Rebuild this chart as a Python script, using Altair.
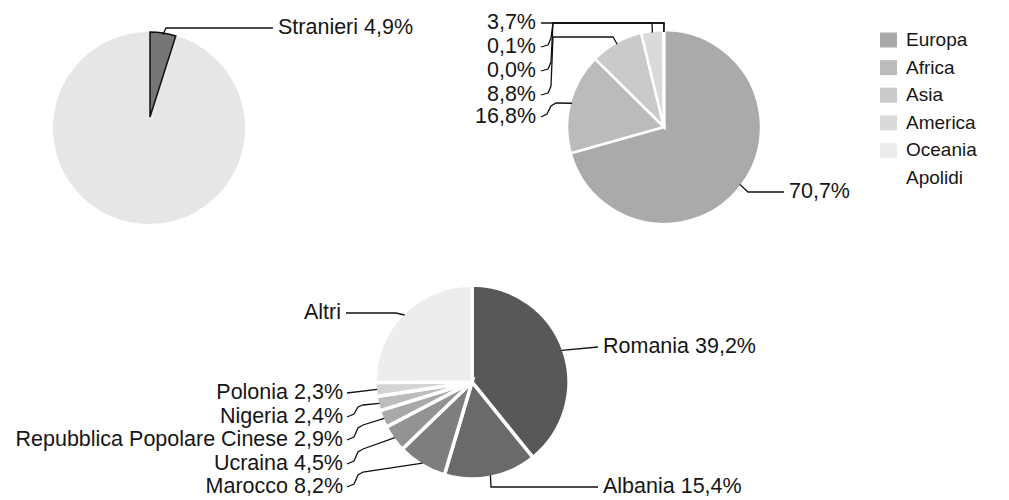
import math
import altair as alt
import pandas as pd

# ---------------- data ----------------
p1_names = ["Stranieri", "Italiani"]
p1_values = [4.9, 95.1]
p1_labels = ["Stranieri 4,9%", ""]

p2_names = ["Europa", "Africa", "Asia", "America", "Oceania", "Apolidi"]
p2_values = [70.7, 16.8, 8.8, 3.7, 0.1, 0.0]
p2_labels = ["70,7%", "16,8%", "8,8%", "3,7%", "0,1%", "0,0%"]

p3_names = ["Romania", "Albania", "Marocco", "Ucraina",
            "Repubblica Popolare Cinese", "Nigeria", "Polonia", "Altri"]
p3_values = [39.2, 15.4, 8.2, 4.5, 2.9, 2.4, 2.3, 25.1]
p3_labels = ["Romania 39,2%", "Albania 15,4%", "Marocco 8,2%", "Ucraina 4,5%",
             "Repubblica Popolare Cinese 2,9%", "Nigeria 2,4%", "Polonia 2,3%", "Altri"]

# ---------------- styles / layout ----------------
W, H = 993, 490
OX, OY = 8, 8
FONT = "Liberation Sans"
TXT = "#161616"
FS = 21.5

p1_colors = ["#767676", "#e6e6e6"]
p2_colors = ["#aaaaaa", "#bbbbbb", "#cacaca", "#dadada", "#ececec", "#ffffff"]
p3_colors = ["#585858", "#6a6a6a", "#7e7e7e", "#939393", "#a8a8a8",
             "#bcbcbc", "#d4d4d4", "#ededed"]

PIE1 = (149, 128, 96)        # base disc
PIE1W = (150, 117, 85)       # pulled wedge
PIE2 = (664, 127, 97)
PIE3 = (472, 382, 97)

def anchor(pie, values, i, f=0.98):
    cx, cy, r = pie
    tot = sum(values)
    a0 = sum(values[:i]) / tot * 360.0
    mid = math.radians(a0 + values[i] / tot * 180.0)
    return (cx + f * r * math.sin(mid), cy - f * r * math.cos(mid))

# label layout: (pie, values, index, text, text pos, align, route points before the anchor)
LAYOUT = [
    (PIE1W, p1_values, 0, p1_labels[0], (278, 28), "left", [(273, 28), (166, 28)]),
    (PIE2, p2_values, 0, p2_labels[0], (789, 192), "left", [(784, 192), (748, 192)]),
    (PIE2, p2_values, 1, p2_labels[1], (536, 117), "right", [(541, 117), (547, 114), (551, 106), (556, 103)]),
    (PIE2, p2_values, 2, p2_labels[2], (536, 95), "right", [(541, 95), (548, 93), (551, 86), (553, 37), (613, 37)]),
    (PIE2, p2_values, 3, p2_labels[3], (536, 23), "right", [(541, 23), (652, 23)]),
    (PIE2, p2_values, 4, p2_labels[4], (536, 47), "right", [(541, 47), (548, 45), (551, 38), (553, 23), (664, 23)]),
    (PIE2, p2_values, 5, p2_labels[5], (536, 71), "right", [(541, 71), (548, 69), (551, 62), (553, 23), (664, 23)]),
    (PIE3, p3_values, 0, p3_labels[0], (603, 347), "left", [(598, 347)]),
    (PIE3, p3_values, 1, p3_labels[1], (603, 487), "left", [(598, 487), (491, 487)]),
    (PIE3, p3_values, 2, p3_labels[2], (343, 487), "right", [(347, 487), (354, 484), (358, 475), (363, 472)]),
    (PIE3, p3_values, 3, p3_labels[3], (343, 464), "right", [(347, 464), (354, 461), (358, 452), (363, 449)]),
    (PIE3, p3_values, 4, p3_labels[4], (343, 440), "right", [(347, 440), (354, 437), (358, 428), (363, 425)]),
    (PIE3, p3_values, 5, p3_labels[5], (343, 417), "right", [(347, 417), (354, 414), (358, 407), (363, 405)]),
    (PIE3, p3_values, 6, p3_labels[6], (343, 393), "right", [(347, 393)]),
    (PIE3, p3_values, 7, p3_labels[7], (341, 313), "right", [(346, 313), (396, 313)]),
]

LEG_X0, LEG_X1, LEG_TX = 880, 897, 906
LEG_Y0, LEG_DY, LEG_SW = 40, 27.6, 15

# ---------------- build tables ----------------
texts, lines = [], []
for n, (pie, vals, i, lab, (tx, ty), al, route) in enumerate(LAYOUT):
    texts.append({"x": tx - OX, "y": ty - OY, "text": lab, "align": al})
    pts = route + [anchor(pie, vals, i)]
    for k, (px, py) in enumerate(pts):
        lines.append({"line": n, "k": k, "x": px - OX, "y": py - OY})
text_df = pd.DataFrame(texts)
line_df = pd.DataFrame(lines)

leg_rows = []
for j, name in enumerate(p2_names):
    yc = LEG_Y0 + j * LEG_DY
    leg_rows.append({"name": name, "x": LEG_X0 - OX, "x2": LEG_X1 - OX,
                     "y": yc - LEG_SW / 2 - OY, "y2": yc + LEG_SW / 2 - OY,
                     "tx": LEG_TX - OX, "ty": yc - OY})
leg_df = pd.DataFrame(leg_rows)

def pie_df(names, values):
    return pd.DataFrame({"name": names, "value": values, "idx": list(range(len(names)))})

XS = alt.Scale(domain=[0, W], range=[0, W], nice=False, zero=False)
YS = alt.Scale(domain=[0, H], range=[0, H], nice=False, zero=False)

def arc_layer(df, pie, names, colors, **mk):
    cx, cy, r = pie
    return alt.Chart(df).mark_arc(radius=r, **mk).encode(
        theta=alt.Theta("value:Q", stack=True),
        order=alt.Order("idx:Q"),
        color=alt.Color("name:N", scale=alt.Scale(domain=names, range=colors), legend=None),
        x=alt.value(cx - OX), y=alt.value(cy - OY),
    )

d1 = pie_df(p1_names, p1_values)
d2 = pie_df(p2_names, p2_values)
d3 = pie_df(p3_names, p3_values)

pie1_base = alt.Chart(d1).mark_arc(radius=PIE1[2], color=p1_colors[1]).encode(
    theta=alt.Theta("value:Q", stack=True), order=alt.Order("idx:Q"),
    x=alt.value(PIE1[0] - OX), y=alt.value(PIE1[1] - OY))
pie1_wedge = arc_layer(d1, PIE1W, p1_names, p1_colors, stroke="#111111", strokeWidth=1.5).encode(
    opacity=alt.condition(alt.datum.name == "Stranieri", alt.value(1), alt.value(0)))
pie2 = arc_layer(d2, PIE2, p2_names, p2_colors, stroke="white", strokeWidth=2.5)
pie3 = arc_layer(d3, PIE3, p3_names, p3_colors, stroke="white", strokeWidth=3.5)

leaders = alt.Chart(line_df).mark_line(color="#111111", strokeWidth=1.3).encode(
    x=alt.X("x:Q", scale=XS, axis=None), y=alt.Y("y:Q", scale=YS, axis=None),
    detail="line:N", order=alt.Order("k:Q"))

def text_layer(al):
    return alt.Chart(text_df[text_df["align"] == al]).mark_text(
        align=al, baseline="middle", font=FONT, fontSize=FS, color=TXT).encode(
        x=alt.X("x:Q", scale=XS, axis=None), y=alt.Y("y:Q", scale=YS, axis=None), text="text:N")

legend_sw = alt.Chart(leg_df).mark_rect().encode(
    x=alt.X("x:Q", scale=XS, axis=None), x2="x2", y=alt.Y("y:Q", scale=YS, axis=None), y2="y2",
    color=alt.Color("name:N", scale=alt.Scale(domain=p2_names, range=p2_colors), legend=None))
legend_tx = alt.Chart(leg_df).mark_text(align="left", baseline="middle", font=FONT,
                                        fontSize=19, color=TXT).encode(
    x=alt.X("tx:Q", scale=XS, axis=None), y=alt.Y("ty:Q", scale=YS, axis=None), text="name:N")

chart = alt.layer(
    pie1_base, pie1_wedge, pie2, pie3, leaders, text_layer("left"), text_layer("right"),
    legend_sw, legend_tx,
).resolve_scale(theta="independent", color="independent").properties(
    width=W, height=H, padding=0, autosize=alt.AutoSizeParams(type="none"),
    background="white",
).configure_view(stroke=None)

chart.save("out.html", embed_options={"renderer": "svg", "actions": False})
